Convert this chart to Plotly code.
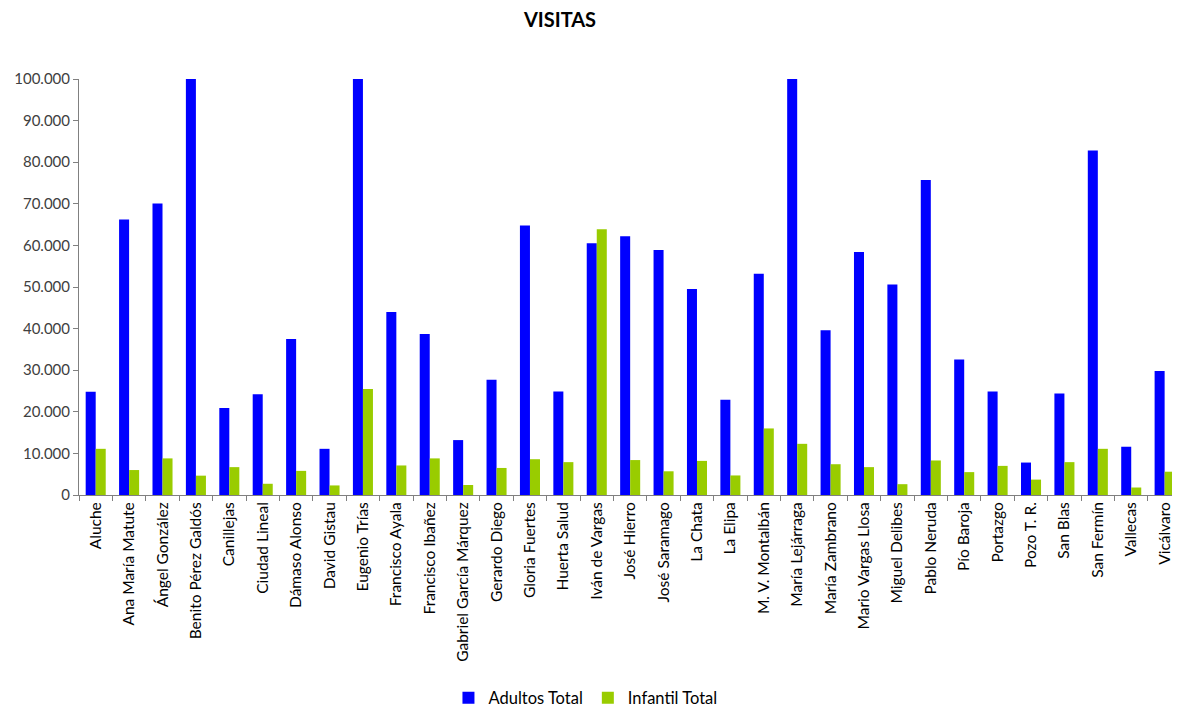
import plotly.graph_objects as go

categories = ["Aluche", "Ana María Matute", "Ángel González", "Benito Pérez Galdós", "Canillejas",
              "Ciudad Lineal", "Dámaso Alonso", "David Gistau", "Eugenio Trías", "Francisco Ayala",
              "Francisco Ibañez", "Gabriel García Márquez", "Gerardo Diego", "Gloria Fuertes",
              "Huerta Salud", "Iván de Vargas", "José Hierro", "José Saramago", "La Chata", "La Elipa",
              "M. V. Montalbán", "María Lejárraga", "María Zambrano", "Mario Vargas Llosa",
              "Miguel Delibes", "Pablo Neruda", "Pío Baroja", "Portazgo", "Pozo T. R.", "San Blas",
              "San Fermín", "Vallecas", "Vicálvaro"]

adultos = [24800, 66200, 70100, 100000, 20900, 24200, 37500, 11100, 100000, 44000,
           38700, 13200, 27700, 64800, 24900, 60500, 62200, 58900, 49500, 22900,
           53200, 100000, 39600, 58400, 50600, 75700, 32600, 24900, 7800, 24400,
           82800, 11600, 29800]

infantil = [11100, 6000, 8800, 4650, 6700, 2700, 5800, 2300, 25500, 7100,
            8800, 2400, 6500, 8600, 7900, 63900, 8400, 5700, 8200, 4700,
            16000, 12300, 7400, 6700, 2600, 8300, 5500, 7000, 3700, 7900,
            11100, 1800, 5600]

y_ticks = [0, 10000, 20000, 30000, 40000, 50000, 60000, 70000, 80000, 90000, 100000]

font_family = "Lato, 'Open Sans', sans-serif"

fig = go.Figure()
fig.add_trace(go.Bar(name="Adultos Total", x=categories, y=adultos,
                     marker=dict(color="#0000FF", line=dict(width=0))))
fig.add_trace(go.Bar(name="Infantil Total", x=categories, y=infantil,
                     marker=dict(color="#99CC00", line=dict(width=0))))

fig.update_layout(
    width=1172, height=699,
    barmode="group", bargap=0.40, bargroupgap=0,
    separators=",.",
    plot_bgcolor="white", paper_bgcolor="white",
    font=dict(family=font_family, color="#333333"),
    margin=dict(l=71, r=0, t=71, b=212),
    title=dict(text="<b>VISITAS</b>", x=0.471, xanchor="center", y=0.983, yanchor="middle",
               font=dict(size=20, color="#000000", family=font_family)),
    legend=dict(orientation="h", x=0.46, xanchor="center", yref="container", y=0.013,
                yanchor="middle", font=dict(size=16.5, color="#000000", family=font_family),
                itemwidth=30, traceorder="normal"),
    xaxis=dict(type="category", range=[-0.5, 32.46], tickangle=-90, tickson="boundaries",
               ticks="outside", ticklen=5, tickcolor="#808080", showline=True,
               linecolor="#808080", linewidth=1, showgrid=False,
               tickfont=dict(size=15.5, color="#000000")),
    yaxis=dict(range=[0, 100000], tickvals=y_ticks, tickformat=",d", ticks="outside",
               ticklen=5, tickcolor="#808080", showline=True, linecolor="#808080",
               linewidth=1, showgrid=False, zeroline=False,
               tickfont=dict(size=15, color="#404040")),
)

fig.write_html("out.html")
